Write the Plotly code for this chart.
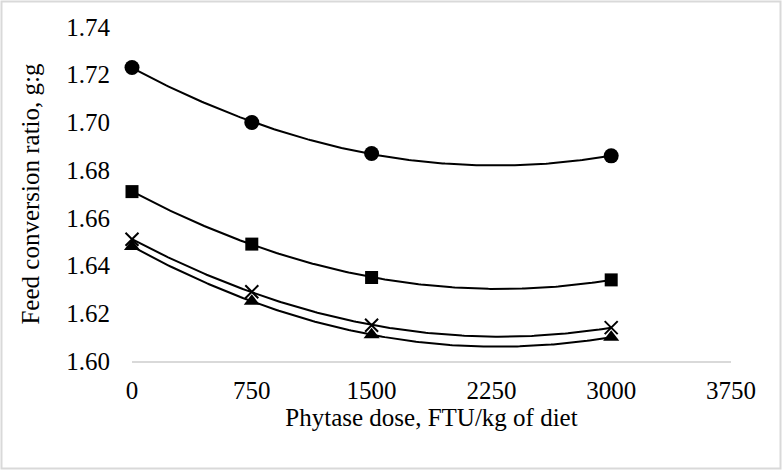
import numpy as np
import plotly.graph_objects as go

doses = [0, 750, 1500, 3000]
series_circle = [1.723, 1.700, 1.687, 1.686]
series_square = [1.671, 1.649, 1.635, 1.634]
series_x = [1.651, 1.629, 1.615, 1.614]
series_triangle = [1.648, 1.625, 1.611, 1.610]

x_ticks = [0, 750, 1500, 2250, 3000, 3750]
y_ticks = [1.60, 1.62, 1.64, 1.66, 1.68, 1.70, 1.72, 1.74]

series = [
    ("Circle", series_circle, "circle", 15),
    ("Square", series_square, "square", 13),
    ("Cross", series_x, "x-thin", 13),
    ("Triangle", series_triangle, "triangle-up", 14),
]

fig = go.Figure()
xs = np.linspace(min(doses), max(doses), 200)
for name, vals, sym, size in series:
    coef = np.polyfit(doses, vals, 2)
    fig.add_trace(go.Scatter(x=xs, y=np.polyval(coef, xs), mode="lines",
                             line=dict(color="black", width=2), showlegend=False,
                             hoverinfo="skip", cliponaxis=False))
    mk = dict(symbol=sym, size=size, color="black")
    if sym == "x-thin":
        mk["line"] = dict(color="black", width=2)
    fig.add_trace(go.Scatter(x=doses, y=vals, mode="markers", name=name,
                             marker=mk, showlegend=False, cliponaxis=False))

L, R, T, B = 132, 51, 27, 109
W, H = 782, 470
pw, ph = W - L - R, H - T - B
fig.add_shape(type="rect", xref="paper", yref="paper",
              x0=(1.5 - L) / pw, x1=(W - 1.5 - L) / pw,
              y0=-(B - 1.5) / ph, y1=(ph + T - 1.5) / ph,
              line=dict(color="#d9d9d9", width=2), layer="below")

font = dict(family="Liberation Serif", size=25, color="black")
fig.update_layout(
    width=W, height=H,
    margin=dict(l=L, r=R, t=T, b=B),
    paper_bgcolor="white", plot_bgcolor="white",
    font=font,
    xaxis=dict(range=[0, 3750], tickvals=x_ticks, ticktext=[str(v) for v in x_ticks],
               showgrid=False, zeroline=False, showline=True, linecolor="#d9d9d9",
               linewidth=2, ticks="", ticklabelstandoff=6, automargin=False,
               tickfont=font,
               title=dict(text="Phytase dose, FTU/kg of diet", font=font, standoff=5)),
    yaxis=dict(range=[1.60, 1.74], tickvals=y_ticks, tickformat=".2f",
               showgrid=False, zeroline=False, showline=False, ticks="",
               ticklabelstandoff=21, automargin=False, tickfont=font,
               title=dict(text="Feed conversion ratio, g:g", font=font, standoff=19)),
)
fig.write_html("out.html", config={"displayModeBar": False},
               post_script="document.body.style.margin='0';document.body.style.overflow='hidden';")
